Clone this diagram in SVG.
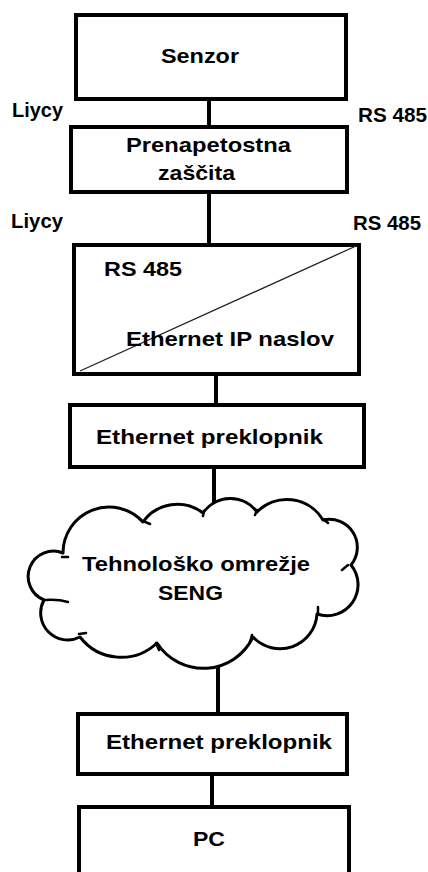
<svg xmlns="http://www.w3.org/2000/svg" width="428" height="872" viewBox="0 0 428 872">
<style>
.box{fill:#fff;stroke:#000;stroke-width:4}
.con{stroke:#000;stroke-width:4;fill:none}
.t{font-family:"Liberation Sans",Arial,sans-serif;font-weight:bold;font-size:21px;fill:#000}
.cloud{fill:#fff;stroke:#000;stroke-width:3;stroke-linejoin:round}
.curl{fill:none;stroke:#000;stroke-width:2.5;stroke-linecap:round}
</style>
<rect width="428" height="872" fill="#fff"/>
<g id="connectors">
<line class="con" x1="209" y1="99" x2="209" y2="127"/>
<line class="con" x1="209" y1="192" x2="209" y2="245"/>
<line class="con" x1="216" y1="374" x2="216" y2="405"/>
<line class="con" x1="214" y1="467" x2="214" y2="506"/>
<line class="con" x1="218" y1="665" x2="218" y2="714"/>
<line class="con" x1="212" y1="774" x2="212" y2="807"/>
</g>
<g id="senzor">
<rect class="box" x="76" y="15" width="270" height="84"/>
<text class="t" x="161" y="63" textLength="78" lengthAdjust="spacingAndGlyphs">Senzor</text>
</g>
<g id="labels1">
<text class="t" x="12" y="117" textLength="51" lengthAdjust="spacingAndGlyphs">Liycy</text>
<text class="t" x="358" y="122" textLength="69" lengthAdjust="spacingAndGlyphs">RS 485</text>
</g>
<g id="prenapetostna">
<rect class="box" x="71" y="127" width="276" height="65"/>
<text class="t" x="126" y="152" textLength="165" lengthAdjust="spacingAndGlyphs">Prenapetostna</text>
<text class="t" x="158" y="180" textLength="77" lengthAdjust="spacingAndGlyphs">zaščita</text>
</g>
<g id="labels2">
<text class="t" x="11" y="228" textLength="52" lengthAdjust="spacingAndGlyphs">Liycy</text>
<text class="t" x="353" y="230" textLength="68" lengthAdjust="spacingAndGlyphs">RS 485</text>
</g>
<g id="converter">
<rect class="box" x="74" y="245" width="285" height="129"/>
<line x1="80" y1="371" x2="356" y2="246" stroke="#222" stroke-width="1.3"/>
<text class="t" x="104" y="276" textLength="78" lengthAdjust="spacingAndGlyphs">RS 485</text>
<text class="t" x="126" y="346" textLength="208" lengthAdjust="spacingAndGlyphs">Ethernet IP naslov</text>
</g>
<g id="switch1">
<rect class="box" x="70" y="405" width="294" height="62"/>
<text class="t" x="96" y="444" textLength="227" lengthAdjust="spacingAndGlyphs">Ethernet preklopnik</text>
</g>
<g id="cloud">
<path class="cloud" d="M 63 553 A 46 46 0 0 1 143 522 A 42 42 0 0 1 203 513 A 33 33 0 0 1 257 512 A 42 42 0 0 1 323 520 A 28 28 0 0 1 351 565 A 31 31 0 0 1 317 614 A 37 37 0 0 1 253 637 A 55 55 0 0 1 157 643 A 52 52 0 0 1 80 637 A 27 27 0 0 1 44 600 A 25 25 0 0 1 63 553 Z"/>
<path class="curl" d="M143 521 L150 524 M204 511 L203 516 M257 510 L255 515 M323 519 L328 523 M348 565 L342 570 M318 607 L318 614 M252 635 L250 642 M156 643 L159 650 M79 634 L86 633 M45 600 Q58 599 68 602 M62 557 L68 557"/>
<text class="t" x="82" y="571" textLength="228" lengthAdjust="spacingAndGlyphs">Tehnološko omrežje</text>
<text class="t" x="158" y="600" textLength="65" lengthAdjust="spacingAndGlyphs">SENG</text>
</g>
<g id="switch2">
<rect class="box" x="78" y="714" width="269" height="60"/>
<text class="t" x="106" y="749" textLength="226" lengthAdjust="spacingAndGlyphs">Ethernet preklopnik</text>
</g>
<g id="pc">
<rect class="box" x="79" y="807" width="270" height="80"/>
<text class="t" x="193" y="846" textLength="32" lengthAdjust="spacingAndGlyphs">PC</text>
</g>
</svg>
